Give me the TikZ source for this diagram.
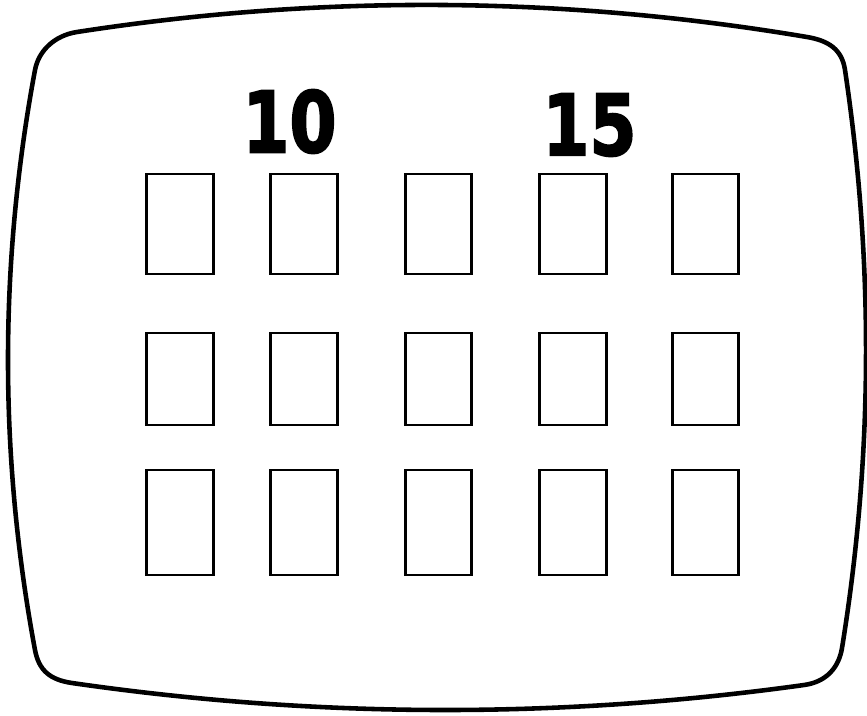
\documentclass[tikz,border=0pt]{standalone}
\usepackage{fontspec}
\newfontfamily\scorefont[BoldFeatures={FakeBold=2.5}]{DejaVu Sans}
\usetikzlibrary{positioning}
\tikzset{
  screen/.style={draw, line width=1.3pt, line join=round},
  slot/.style={
    rectangle, draw, line width=0.8pt, inner sep=0pt,
    minimum width=0.665cm
  },
  score/.style={
    inner sep=0pt, text=black, xscale=0.8, transform shape,
    font=\scorefont\bfseries\fontsize{24}{24}\selectfont
  }
}
\begin{document}
\begin{tikzpicture}[x=0.01cm, y=-0.01cm]
\useasboundingbox (0,0) rectangle (867,715);

% screen outline
\path[screen] (77,32) .. controls (320.3,-5.7) and (563.7,-4) .. (807,37)
  .. controls (828.9,40.7) and (842,49.6) .. (845,70)
  .. controls (874,264) and (873,456.7) .. (842,648)
  .. controls (838.7,668) and (826,682) .. (804,685)
  .. controls (560,719) and (316,718.3) .. (72,683)
  .. controls (50,679.8) and (38.8,670.3) .. (35,650)
  .. controls (-1,456.7) and (-1,263.3) .. (35,70)
  .. controls (38.7,50.3) and (55,35.4) .. cycle;

% scores
\node[score] (left score) at (289.5,121.5) {10};
\node[score] (right score) at (589.5,125) {15};

% slots
\foreach \row/\yc/\slotht in {1/224/1.00, 2/379/0.92, 3/522.5/1.05}
  \foreach \col/\xc in {1/180, 2/304, 3/438.5, 4/573, 5/705.5}
    \node[slot, minimum height=\slotht cm] (slot-\row-\col) at (\xc,\yc) {};

\end{tikzpicture}
\end{document}
